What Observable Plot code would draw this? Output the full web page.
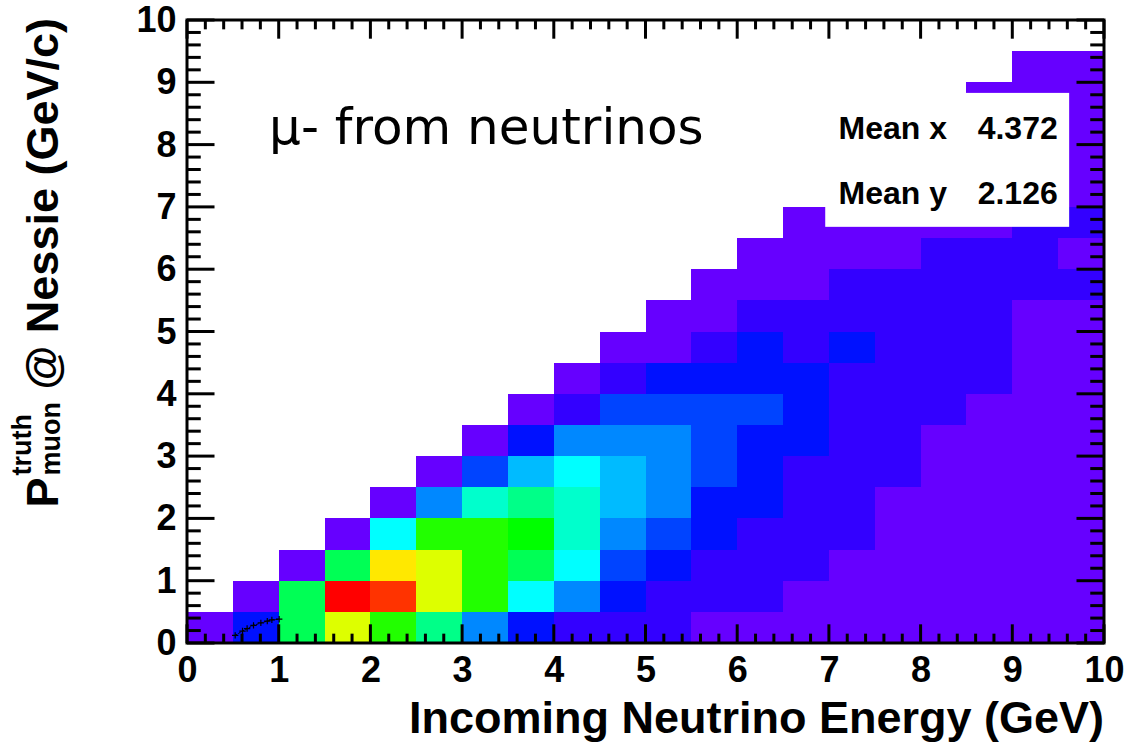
<!DOCTYPE html>
<html>
<head>
<meta charset="utf-8">
<script src="https://cdn.jsdelivr.net/npm/d3@7"></script>
<script src="https://cdn.jsdelivr.net/npm/@observablehq/plot@0.6"></script>
<style>
html, body { margin: 0; padding: 0; background: #fff; }
#chart { width: 1128px; height: 749px; }
</style>
</head>
<body>
<div id="chart"></div>
<script>
// ---------------- data ----------------
// bin lower edges (GeV), bin width 0.5
const xBinEdges = [0,0.5,1,1.5,2,2.5,3,3.5,4,4.5,5,5.5,6,6.5,7,7.5,8,8.5,9,9.5];
const yBinEdges = [0,0.5,1,1.5,2,2.5,3,3.5,4,4.5,5,5.5,6,6.5,7,7.5,8,8.5,9,9.5];
const binWidth = 0.5;

// colour level of each cell (0 = empty), one row per y bin, from y=0 upward
const zRow0  = [1,3,10,13,12,9,5,3,2,2,2,1,1,1,1,1,1,1,1,1];
const zRow1  = [0,1,10,16,15,13,12,7,5,3,2,2,2,1,1,1,1,1,1,1];
const zRow2  = [0,0,1,10,14,13,12,10,7,4,3,2,2,2,1,1,1,1,1,1];
const zRow3  = [0,0,0,1,7,12,12,11,8,5,4,3,2,2,2,1,1,1,1,1];
const zRow4  = [0,0,0,0,1,5,8,9,8,6,5,3,3,2,2,1,1,1,1,1];
const zRow5  = [0,0,0,0,0,1,4,6,7,6,5,4,3,2,2,2,1,1,1,1];
const zRow6  = [0,0,0,0,0,0,1,3,5,5,5,4,3,3,2,2,1,1,1,1];
const zRow7  = [0,0,0,0,0,0,0,1,2,4,4,4,4,3,2,2,2,1,1,1];
const zRow8  = [0,0,0,0,0,0,0,0,1,2,3,3,3,3,2,2,2,2,1,1];
const zRow9  = [0,0,0,0,0,0,0,0,0,1,1,2,3,2,3,2,2,2,1,1];
const zRow10 = [0,0,0,0,0,0,0,0,0,0,1,1,2,2,2,2,2,2,1,1];
const zRow11 = [0,0,0,0,0,0,0,0,0,0,0,1,1,1,2,2,2,2,2,2];
const zRow12 = [0,0,0,0,0,0,0,0,0,0,0,0,1,1,1,1,2,2,2,1];
const zRow13 = [0,0,0,0,0,0,0,0,0,0,0,0,0,1,1,1,1,1,2,2];
const zRow14 = [0,0,0,0,0,0,0,0,0,0,0,0,0,0,1,1,1,1,1,1];
const zRow15 = [0,0,0,0,0,0,0,0,0,0,0,0,0,0,0,1,1,1,1,1];
const zRow16 = [0,0,0,0,0,0,0,0,0,0,0,0,0,0,0,0,1,1,1,1];
const zRow17 = [0,0,0,0,0,0,0,0,0,0,0,0,0,0,0,0,0,1,1,1];
const zRow18 = [0,0,0,0,0,0,0,0,0,0,0,0,0,0,0,0,0,0,1,1];
const zRow19 = [0,0,0,0,0,0,0,0,0,0,0,0,0,0,0,0,0,0,0,0];
const zRows = [zRow0,zRow1,zRow2,zRow3,zRow4,zRow5,zRow6,zRow7,zRow8,zRow9,
               zRow10,zRow11,zRow12,zRow13,zRow14,zRow15,zRow16,zRow17,zRow18,zRow19];

// palette levels (rainbow, low -> high)
const paletteLevels = [1,2,3,4,5,6,7,8,9,10,11,12,13,14,15,16];
const paletteColors = ["#6600ff","#3300ff","#0011ff","#0044ff","#0088ff","#00bbff","#00ffff","#00ffcc",
                       "#00ff88","#00ff55","#00ff00","#22ff00","#ddff00","#ffe800","#ff3300","#ff0000"];

// small profile overlay at low energy
const profX = [0.52,0.60,0.65,0.72,0.80,0.87,0.92,1.00];
const profY = [0.13,0.20,0.24,0.29,0.33,0.36,0.38,0.39];

// tick values
const xMajorTicks = [0,1,2,3,4,5,6,7,8,9,10];
const yMajorTicks = [0,1,2,3,4,5,6,7,8,9,10];

// texts
const xTitle = "Incoming Neutrino Energy (GeV)";
const yTitleMain = "P";
const yTitleSup = "truth";
const yTitleSub = "muon";
const yTitleRest = " @ Nessie (GeV/c)";
const annotText = "\u03bc- from neutrinos";
const statNames = ["Mean x", "Mean y"];
const statValues = ["4.372", "2.126"];

// annotation placement (data units)
const statsBox = {x1: 6.96, x2: 9.62, y1: 6.68, y2: 8.83};
const statRowY = [8.10, 7.06];
const statNameX = 7.10, statValueX = 9.49;
const annotPos = {x: 0.89, y: 8.01};

// ---------------- build ----------------
const cells = [];
zRows.forEach((row, j) => row.forEach((z, i) => {
  if (z > 0) cells.push({x1: xBinEdges[i], x2: xBinEdges[i] + binWidth,
                         y1: yBinEdges[j], y2: yBinEdges[j] + binWidth, z});
}));
const profile = profX.map((x, k) => ({x, y: profY[k]}));
const stats = statNames.map((n, k) => ({name: n, value: statValues[k], y: statRowY[k]}));

const W = 1128, H = 749;
const M = {top: 20, right: 24, bottom: 106, left: 187};
const FONT = "'Liberation Sans', Arial, Helvetica, sans-serif";

const plot = Plot.plot({
  width: W, height: H,
  marginTop: M.top, marginRight: M.right, marginBottom: M.bottom, marginLeft: M.left,
  style: {fontFamily: FONT, fontSize: "36px", fontWeight: "bold", background: "white", color: "black"},
  x: {domain: [0, 10], ticks: xMajorTicks, tickSize: 0, tickPadding: 13, label: null, tickFormat: d3.format("d")},
  y: {domain: [0, 10], ticks: yMajorTicks, tickSize: 0, tickPadding: 11, label: null, tickFormat: d3.format("d")},
  color: {type: "ordinal", domain: paletteLevels, range: paletteColors},
  marks: [
    Plot.rect(cells, {x1: "x1", x2: "x2", y1: "y1", y2: "y2", fill: "z", shapeRendering: "crispEdges"}),
    Plot.line(profile, {x: "x", y: "y", stroke: "black", strokeWidth: 1, strokeDasharray: "2,2"}),
    Plot.dot(profile, {x: "x", y: "y", symbol: "plus", r: 2.2, stroke: "black", strokeWidth: 1.2}),
    Plot.rect([statsBox], {x1: "x1", x2: "x2", y1: "y1", y2: "y2", fill: "white"}),
    Plot.text(stats, {x: statNameX, y: "y", text: "name", textAnchor: "start", lineAnchor: "bottom",
                      fontSize: 32, fontWeight: "bold", fill: "black"}),
    Plot.text(stats, {x: statValueX, y: "y", text: "value", textAnchor: "end", lineAnchor: "bottom",
                      fontSize: 32, fontWeight: "bold", fill: "black"}),
    Plot.text([annotPos], {x: "x", y: "y", text: () => annotText, textAnchor: "start", lineAnchor: "bottom",
                      fontSize: 50, fontWeight: "normal", fontFamily: "'DejaVu Sans', sans-serif", fill: "black"})
  ]
});

document.getElementById("chart").appendChild(plot);

// ---------------- frame, ticks, titles ----------------
const sx = plot.scale("x"), sy = plot.scale("y");
const svg = d3.select(plot);
const L = M.left, R = W - M.right, T = M.top, B = H - M.bottom;
const xMajLen = 0.03 * (B - T), yMajLen = 0.03 * (R - L);
const minorTicks = d3.ticks(0, 10, 50);
const g = svg.append("g").attr("stroke", "black").attr("stroke-width", 3).attr("fill", "none");
minorTicks.forEach(v => {
  const isMaj = Math.abs(v - Math.round(v)) < 1e-9;
  const lx = isMaj ? xMajLen : xMajLen / 2;
  const ly = isMaj ? yMajLen : yMajLen / 2;
  const px = sx.apply(v), py = sy.apply(v);
  g.append("line").attr("x1", px).attr("x2", px).attr("y1", B).attr("y2", B - lx);
  g.append("line").attr("x1", px).attr("x2", px).attr("y1", T).attr("y2", T + lx);
  g.append("line").attr("y1", py).attr("y2", py).attr("x1", L).attr("x2", L + ly);
  g.append("line").attr("y1", py).attr("y2", py).attr("x1", R).attr("x2", R - ly);
});
g.append("rect").attr("x", L).attr("y", T).attr("width", R - L).attr("height", B - T);

// x title
svg.append("text").attr("x", R).attr("y", 733).attr("text-anchor", "end")
  .attr("font-family", FONT).attr("font-weight", "bold").attr("font-size", 45).attr("fill", "black")
  .text(xTitle);

// y title (rotated), right-aligned to the top of the frame
const yt = svg.append("g").attr("font-family", FONT).attr("font-weight", "bold")
  .attr("fill", "black").attr("text-anchor", "start");
const tP = yt.append("text").attr("text-anchor", "start").attr("font-size", 45).attr("x", 0).attr("y", 0).text(yTitleMain);
const wP = tP.node().getComputedTextLength();
const tSup = yt.append("text").attr("text-anchor", "start").attr("font-size", 27).attr("x", wP + 2).attr("y", -27).text(yTitleSup);
const tSub = yt.append("text").attr("text-anchor", "start").attr("font-size", 27).attr("x", wP + 2).attr("y", 2).text(yTitleSub);
const wS = Math.max(tSup.node().getComputedTextLength(), tSub.node().getComputedTextLength());
const tRest = yt.append("text").attr("text-anchor", "start").attr("font-size", 45).attr("x", wP + 2 + wS).attr("y", 0)
  .style("white-space", "pre").text(yTitleRest);
const total = wP + 2 + wS + tRest.node().getComputedTextLength();
yt.attr("transform", `translate(58,${T - 2 + total}) rotate(-90)`);
</script>
</body>
</html>
